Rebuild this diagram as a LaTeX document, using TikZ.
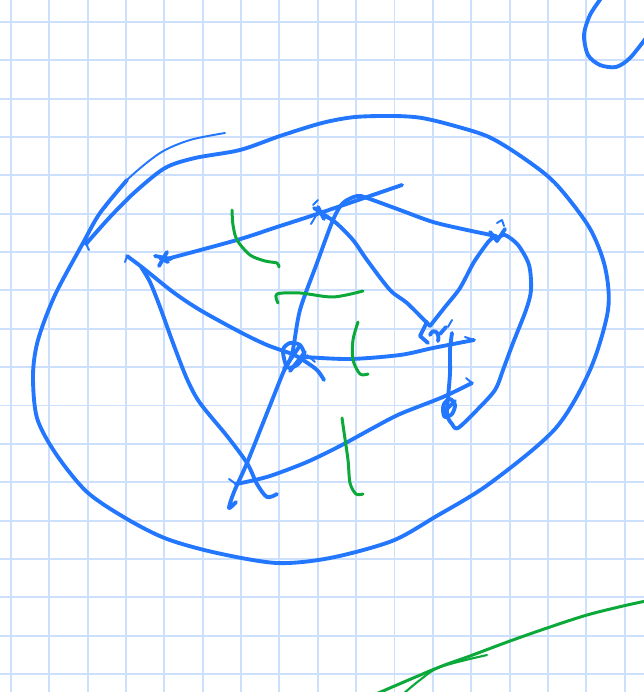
\documentclass[tikz,border=0pt]{standalone}
\usepackage{tikz}
\usepackage{xcolor}
\definecolor{caneta}{HTML}{2377FF}
\definecolor{marca}{HTML}{0BA83A}
\definecolor{grade}{HTML}{CCE0FD}

\begin{document}
\begin{tikzpicture}[x=0.02cm, y=-0.02cm, line cap=round, line join=round,
        traco/.style={caneta, line width=2.2pt},
        fino/.style={caneta, line width=1.1pt},
        verde/.style={marca, line width=1.7pt}]
        % Folha quadriculada
        \fill[white] (0,0) rectangle (644,692);
        \useasboundingbox (0,0) rectangle (644,692);
        \foreach \k in {0,...,16} \draw[grade, line width=1.1pt] ({11+38.35*\k},0) -- ({11+38.35*\k},692);
        \foreach \k in {0,...,17} \draw[grade, line width=1.1pt] (0,{22+38.35*\k}) -- (644,{22+38.35*\k});

        % Vertices
        \coordinate (A) at (163,260);
        \coordinate (B) at (320,213);
        \coordinate (C) at (496,236);
        \coordinate (D) at (430,326);
        \coordinate (E) at (292,354);
        \coordinate (F) at (449,408);
        \coordinate (G) at (233,492);

        % Curva no canto
        \draw[traco] plot[smooth] coordinates {(602,-3) (590,15) (584,35) (588,55) (600,65) (616,67) (630,58) (646,38)};

        % Contorno grande
        \draw[fino] plot[smooth] coordinates {(225,133) (190,140) (160,153) (127,180) (105,208)};
        \draw[traco] plot[smooth] coordinates {(127,180) (100,213) (83,243) (55,295) (38,340) (33,375) (37,418) (56,454) (87,492) (127,519) (167,539) (217,553) (277,563) (330,558) (392,541) (435,517) (489,484) (555,429) (590,370) (608,310) (605,267) (589,227) (555,183) (522,157) (489,137) (455,126) (422,118) (394,116) (355,117) (322,123) (280,136) (240,150) (195,158) (165,168) (135,192) (110,217) (86,244)};
        \draw[fino] (86,244) -- (89,250);

        % Arestas
        \draw[traco] plot[smooth] coordinates {(A) (237,240) (277,227) (B) (402,185)};
        \draw[traco] plot[smooth] coordinates {(236,502) (229,508) (234,492) (247,463) (267,413) (283,373) (E) (300,310) (317,263) (333,220) (343,203) (357,196) (367,198) (400,210) (433,222) (467,230) (C)};
        \draw[fino] (125,262) -- (127,256);
        \draw[traco] plot[smooth] coordinates {(127,256) (143,268) (173,292) (200,310) (240,332) (267,345) (E) (303,360) (317,370) (324,380)};
        \draw[fino] (137,263) -- (141,267);
        \draw[traco] plot[smooth] coordinates {(141,267) (150,282) (160,307) (173,343) (187,379) (200,403) (227,436) (247,463) (257,484) (267,497) (277,494)};
        \draw[traco] plot[smooth] coordinates {(B) (335,222) (353,240) (367,260) (390,290) (407,303) (D)};
        \draw[traco] plot[smooth] coordinates {(C) (489,241) (474,262) (460,288) (445,307) (D)};
        \draw[traco] plot[smooth] coordinates {(305,357) (350,359) (400,355) (433,348) (474,340)};
        \draw[fino] (474,340) -- (465,337);
        \draw[fino] (229,479) -- (236,484);
        \draw[traco] plot[smooth] coordinates {(236,484) (255,480) (273,475) (307,462) (340,446) (373,428) (400,414) (443,397) (472,383)};
        \draw[fino] (472,383) -- (466,378);
        \draw[traco] plot[smooth] coordinates {(452,333) (450,350) (450,373) (448,398) (447,415) (452,424) (458,428) (477,410) (495,390) (503,370) (513,343) (526,310) (531,290) (529,265) (518,245) (505,235) (498,238)};

        % Marcas nos vertices
        \draw[traco] (155,256) -- (171,259) (159,266) -- (167,252) (160,258) -- (168,262);
        \draw[traco] (314,208) -- (329,218) (318,207) -- (324,219);
        \draw[fino] (313,205) -- (318,200) (311,224) -- (317,214);
        \draw[traco] (490,232) -- (497,241) -- (505,229);
        \draw[fino] (497,223) -- (502,220) -- (504,226);
        \draw[traco] plot[smooth cycle] coordinates {(283,350) (290,343) (300,345) (304,355) (297,365) (287,367)};
        \draw[traco] (284,369) -- (299,347) (290,371) -- (305,352);
        \draw[fino] (307,355) -- (315,362);
        \draw[traco] (427,322) -- (420,336) -- (428,343);
        \draw[traco] (430,335) .. controls (434,326) and (440,334) .. (438,341);
        \draw[traco] (440,334) -- (446,327);
        \draw[fino] (448,327) -- (452,320);
        \draw[traco] plot[smooth cycle] coordinates {(444,404) (450,399) (455,405) (452,414) (445,417) (443,411)};
        \draw[traco] (444,412) -- (455,401);

        % Tracos verdes
        \draw[verde] plot[smooth] coordinates {(232,210) (233,225) (237,240) (250,255) (265,261) (277,263) (279,267)};
        \draw[verde] plot[smooth] coordinates {(278,303) (277,294) (300,293) (333,297) (363,291)};
        \draw[verde] plot[smooth] coordinates {(358,322) (353,340) (353,360) (360,374) (368,374)};
        \draw[verde] plot[smooth] coordinates {(342,418) (344,432) (348,460) (350,483) (356,494) (363,494)};
        \draw[verde] plot[smooth] coordinates {(376,694) (437,668) (470,656) (510,641) (550,627) (587,615) (623,606) (646,601)};
        \draw[marca, line width=1.2pt] plot[smooth] coordinates {(403,694) (420,680) (440,667) (487,655)};
    \end{tikzpicture}
\end{document}
